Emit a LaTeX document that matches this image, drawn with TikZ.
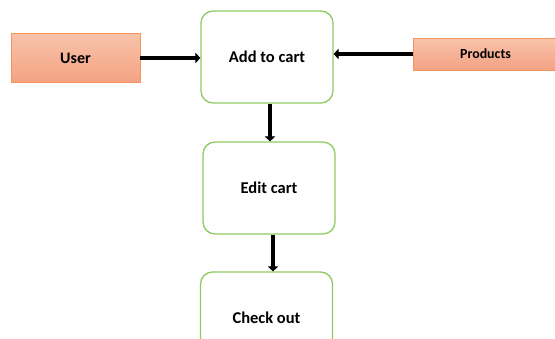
\documentclass[tikz,border=0pt]{standalone}
\usepackage{fontspec}
\setmainfont{Carlito}
\usepackage{tikz}
\usetikzlibrary{arrows.meta,positioning}

\definecolor{salmonline}{HTML}{F2955E}
\definecolor{salmontop}{HTML}{F8C3AA}
\definecolor{salmonbot}{HTML}{F4A283}
\definecolor{stepgreen}{HTML}{8DCB63}

\tikzset{
  actor/.style={shape=rectangle,draw=salmonline,line width=0.8pt,top color=salmontop,bottom color=salmonbot,font=\bfseries},
  stepbox/.style={shape=rectangle,rounded corners=12pt,draw=stepgreen,line width=1.3pt,fill=white,minimum width=132pt,minimum height=92pt,font=\bfseries\fontsize{16.5}{19}\selectfont},
  flow/.style={line width=4.5pt,-{Triangle[length=5pt,width=10.5pt]}}
}

\begin{document}
\begin{tikzpicture}[x=1pt,y=-1pt]
\clip (0,0) rectangle (555,338);
\node (user) at (75.5,58) [actor,minimum width=129pt,minimum height=49pt,font=\bfseries\fontsize{16}{19}\selectfont] {User};
\node (prod) at (485.5,54) [actor,minimum width=145pt,minimum height=32pt,font=\bfseries\fontsize{13.9}{16}\selectfont] {Products};
\node (add) at (267,57) [stepbox] {Add to cart};
\node (edit) at (269,188) [stepbox] {Edit cart};
\node (check) at (266.5,318) [stepbox] {Check out};
\draw [flow] (user.east) -- (user.east -| add.west);
\draw [flow] (prod.west) -- (prod.west -| add.east);
\draw [flow] ([xshift=3pt]add.south) -- ([xshift=3pt]add.south |- edit.north);
\draw [flow] ([xshift=4pt]edit.south) -- ([xshift=4pt]edit.south |- check.north);
\end{tikzpicture}
\end{document}
